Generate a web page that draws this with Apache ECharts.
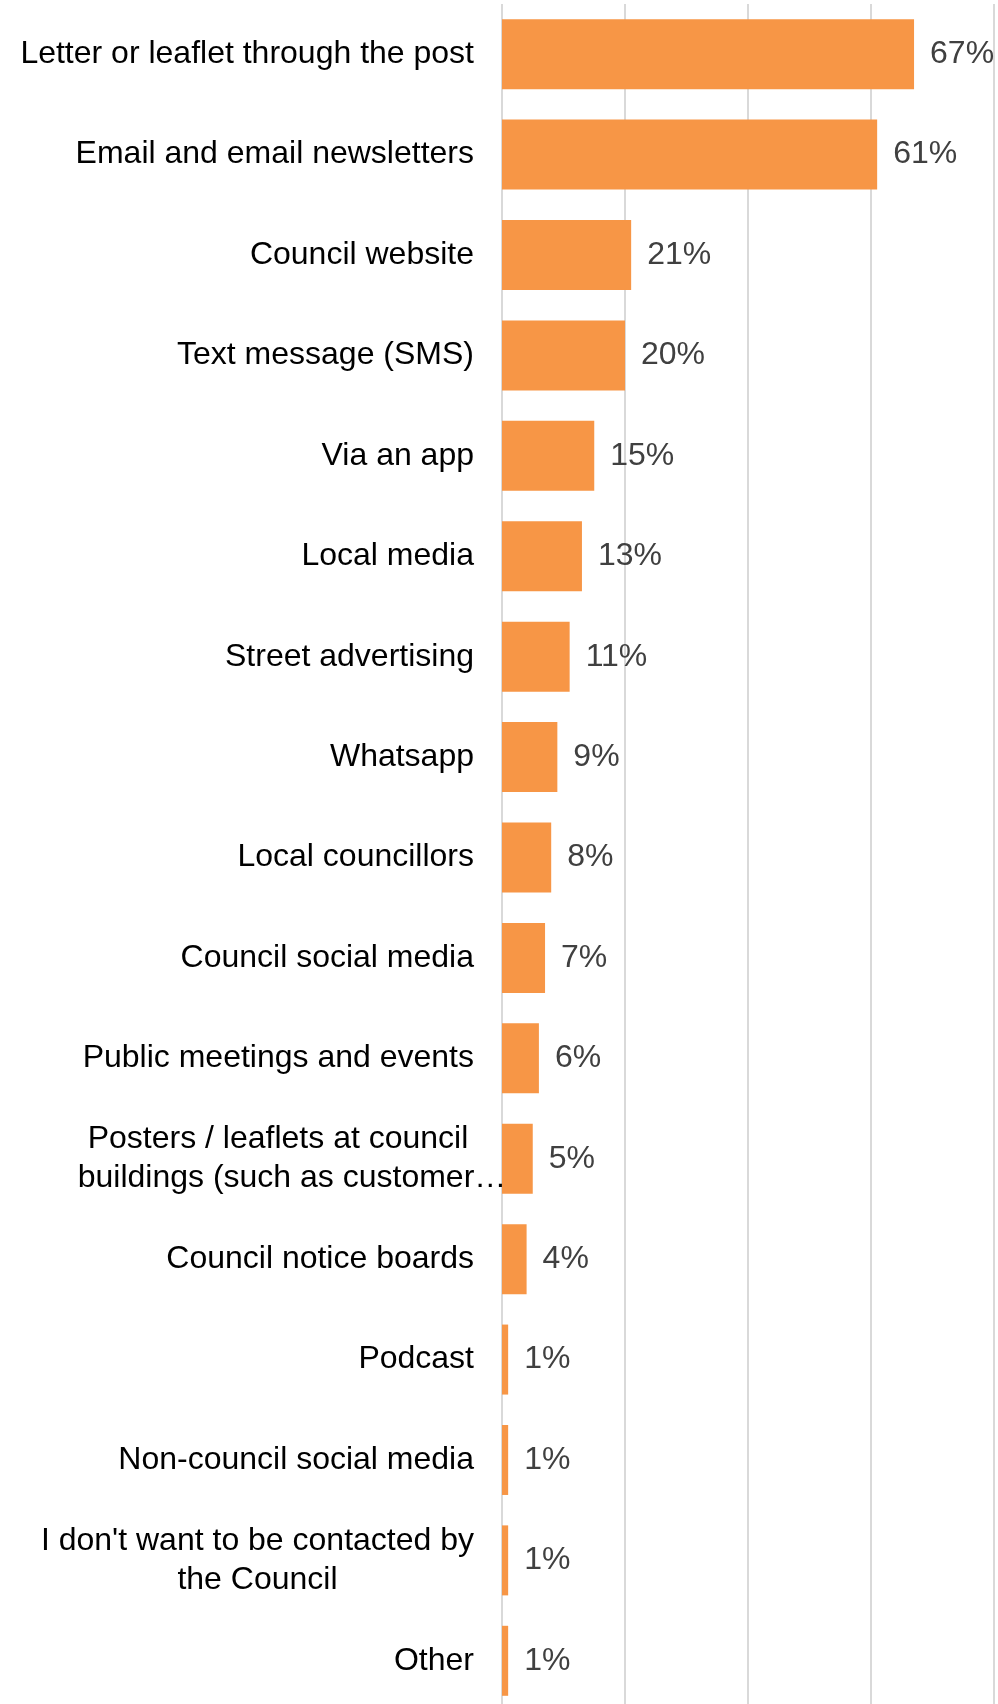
<!DOCTYPE html>
<html>
<head>
<meta charset="utf-8">
<title>Preferred ways to hear from the Council</title>
<script src="https://cdn.jsdelivr.net/npm/echarts@6/dist/echarts.min.js"></script>
<style>
  html, body { margin: 0; padding: 0; background: #ffffff; }
  #chart { width: 998px; height: 1704px; }
</style>
</head>
<body>
<div id="chart"></div>
<script>
// Channel names, top to bottom
const categories = [
  'Letter or leaflet through the post',
  'Email and email newsletters',
  'Council website',
  'Text message (SMS)',
  'Via an app',
  'Local media',
  'Street advertising',
  'Whatsapp',
  'Local councillors',
  'Council social media',
  'Public meetings and events',
  'Posters / leaflets at council\nbuildings (such as customer\u2026',
  'Council notice boards',
  'Podcast',
  'Non-council social media',
  "I don't want to be contacted by\nthe Council",
  'Other'
];

// Share of respondents (%)
const shares = [67, 61, 21, 20, 15, 13, 11, 9, 8, 7, 6, 5, 4, 1, 1, 1, 1];

// Value-axis ticks (%)
const axisTicks = [0, 20, 40, 60, 80];

const FONT = "'Liberation Sans', Arial, Helvetica, sans-serif";
const LABEL_SIZE = 32;
const LINE_HEIGHT = 39;

const tokenBase = {
  fontFamily: FONT,
  fontSize: LABEL_SIZE,
  color: '#000000',
  lineHeight: LINE_HEIGHT
};

const chart = echarts.init(document.getElementById('chart'), null, { renderer: 'canvas' });

chart.setOption({
  animation: false,
  backgroundColor: '#ffffff',
  grid: {
    left: 502,
    top: 4,
    width: 492,
    height: 1707,
    containLabel: false,
    outerBoundsMode: 'none'
  },
  xAxis: {
    type: 'value',
    min: axisTicks[0],
    max: axisTicks[axisTicks.length - 1],
    interval: axisTicks[1] - axisTicks[0],
    axisLine: { show: false },
    axisTick: { show: false },
    axisLabel: { show: false },
    splitLine: { show: true, lineStyle: { color: '#d9d9d9', width: 2 } }
  },
  yAxis: {
    type: 'category',
    inverse: true,
    data: categories,
    axisLine: { show: false },
    axisTick: { show: false },
    splitLine: { show: false },
    axisLabel: {
      margin: 28,
      interval: 0,
      fontFamily: FONT,
      fontSize: LABEL_SIZE,
      color: '#000000',
      lineHeight: LINE_HEIGHT,
      formatter: function (value) {
        const lines = value.split('\n');
        if (value.indexOf('Posters') === 0) {
          // second line is cut short, so it is nudged right past the first
          return '{p1|' + lines[0] + '}\n{sp| }{p2|' + lines[1] + '}';
        }
        return lines.map(function (l) { return '{c|' + l + '}'; }).join('\n');
      },
      rich: {
        c: Object.assign({ align: 'center' }, tokenBase),
        p1: Object.assign({ align: 'center', width: 392 }, tokenBase),
        sp: Object.assign({ align: 'left', width: 28 }, tokenBase),
        p2: Object.assign({ align: 'center', width: 364 }, tokenBase)
      }
    }
  },
  series: [{
    type: 'bar',
    data: shares,
    barWidth: 70,
    itemStyle: { color: '#F79646' },
    label: {
      show: true,
      position: 'right',
      distance: 16,
      fontFamily: FONT,
      fontSize: LABEL_SIZE,
      color: '#404040',
      formatter: function (p) { return p.value + '%'; }
    }
  }]
});
</script>
</body>
</html>
